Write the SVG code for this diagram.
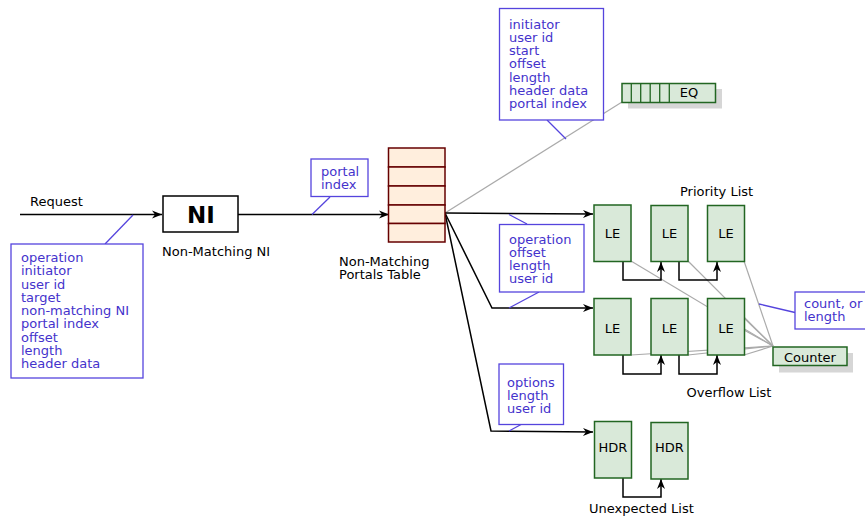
<svg xmlns="http://www.w3.org/2000/svg" width="865" height="516" viewBox="0 0 865 516">
<defs>
<marker id="arr" markerWidth="12" markerHeight="10" viewBox="-11 -5 12 10" refX="0" refY="0" orient="auto" markerUnits="userSpaceOnUse">
<path d="M0,0 L-10,-4 L-7,0 L-10,4 z" fill="#000"/>
</marker>
<style>
text{font-family:"DejaVu Sans",sans-serif;font-size:13px;fill:#000}
.c{fill:#4433cc}
.cb{fill:#fff;stroke:#5544dd;stroke-width:1.3}
.cp{stroke:#5544dd;stroke-width:1.3;fill:none}
.ln{stroke:#000;stroke-width:1.5;fill:none}
.ar{marker-end:url(#arr)}
.gr{stroke:#aaaaaa;stroke-width:1.2;fill:none}
.g{fill:#d9e9d9;stroke:#226622;stroke-width:1.5}
.sh{fill:#d6d6d6}
.t{fill:#ffeedd;stroke:#660000;stroke-width:1.5}
.m{text-anchor:middle}
</style>
</defs>
<g id="connectors">
<line class="gr" x1="445" y1="213" x2="622" y2="102"/>
<line class="gr" x1="631" y1="261" x2="773" y2="346"/>
<line class="gr" x1="688" y1="261" x2="773" y2="346"/>
<line class="gr" x1="744" y1="261" x2="773" y2="346"/>
<line class="gr" x1="744" y1="318" x2="773" y2="346"/>
<line class="gr" x1="744" y1="330" x2="773" y2="346"/>
<line class="gr" x1="744" y1="355" x2="773" y2="346"/>
<line class="gr" x1="631" y1="355" x2="773" y2="346"/>
<line class="gr" x1="688" y1="355" x2="773" y2="346"/>
<path class="ln ar" d="M20,214.5 H162"/>
<path class="ln ar" d="M238,214.5 H389"/>
<path class="ln ar" d="M445,213 L593,214"/>
<path class="ln ar" d="M445,213 L492,308 H593"/>
<path class="ln ar" d="M445,213 L491,431 L593,432"/>
<path class="ln ar" d="M623,262 V280 H661 V262"/>
<path class="ln ar" d="M679,262 V280 H717 V262"/>
<path class="ln ar" d="M623,355 V374 H661 V355"/>
<path class="ln ar" d="M679,355 V374 H717 V355"/>
<path class="ln ar" d="M623,478 V497 H661 V479"/>
</g>
<g id="label-request"><text x="30" y="206">Request</text></g>
<g id="ni">
<rect x="163" y="196" width="75" height="36" fill="#fff" stroke="#000" stroke-width="1.5"/>
<text x="201" y="223" class="m" style="font-size:23px;font-weight:bold">NI</text>
<text x="162" y="256">Non-Matching NI</text>
</g>
<g id="callout-request">
<line class="cp" x1="105" y1="244" x2="133" y2="215"/>
<rect class="cb" x="11" y="244" width="132" height="134"/>
<text class="c" x="21" y="262">operation</text>
<text class="c" x="21" y="275.3">initiator</text>
<text class="c" x="21" y="288.5">user id</text>
<text class="c" x="21" y="301.8">target</text>
<text class="c" x="21" y="315">non-matching NI</text>
<text class="c" x="21" y="328.3">portal index</text>
<text class="c" x="21" y="341.5">offset</text>
<text class="c" x="21" y="354.8">length</text>
<text class="c" x="21" y="368">header data</text>
</g>
<g id="callout-portal">
<line class="cp" x1="330" y1="197" x2="312" y2="214.5"/>
<rect class="cb" x="311" y="159" width="57" height="37.5"/>
<text class="c" x="321" y="176">portal</text>
<text class="c" x="321" y="188.5">index</text>
</g>
<g id="table">
<rect class="t" x="388.5" y="148" width="56.5" height="19"/>
<rect class="t" x="388.5" y="167" width="56.5" height="19"/>
<rect class="t" x="388.5" y="186" width="56.5" height="19"/>
<rect class="t" x="388.5" y="205" width="56.5" height="18.5"/>
<rect class="t" x="388.5" y="223.5" width="56.5" height="18.5"/>
<text x="339" y="265.5">Non-Matching</text>
<text x="339" y="279">Portals Table</text>
</g>
<g id="callout-eq">
<line class="cp" x1="547" y1="120" x2="566" y2="139"/>
<rect class="cb" x="499.5" y="8.5" width="104" height="111.5"/>
<text class="c" x="509" y="28.5">initiator</text>
<text class="c" x="509" y="41.8">user id</text>
<text class="c" x="509" y="55">start</text>
<text class="c" x="509" y="68.3">offset</text>
<text class="c" x="509" y="81.5">length</text>
<text class="c" x="509" y="94.8">header data</text>
<text class="c" x="509" y="108">portal index</text>
</g>
<g id="eq">
<rect class="sh" x="628" y="89" width="94" height="19.5"/>
<rect class="g" x="622" y="83.5" width="93.5" height="19"/>
<path d="M631.3,83.5 V102.5 M640.7,83.5 V102.5 M650.2,83.5 V102.5 M659.7,83.5 V102.5 M669.3,83.5 V102.5" stroke="#226622" stroke-width="1.3"/>
<text x="689" y="97" class="m">EQ</text>
</g>
<g id="callout-le">
<line class="cp" x1="527" y1="224" x2="509" y2="214.5"/>
<line class="cp" x1="539" y1="292" x2="509" y2="308"/>
<rect class="cb" x="499.5" y="224.5" width="84.5" height="67.5"/>
<text class="c" x="509" y="244">operation</text>
<text class="c" x="509" y="257">offset</text>
<text class="c" x="509" y="270">length</text>
<text class="c" x="509" y="283">user id</text>
</g>
<g id="callout-hdr">
<line class="cp" x1="522" y1="424" x2="509" y2="431"/>
<rect class="cb" x="499" y="364" width="64.5" height="60.5"/>
<text class="c" x="507" y="387">options</text>
<text class="c" x="507" y="400">length</text>
<text class="c" x="507" y="413">user id</text>
</g>
<g id="priority-list">
<text x="680" y="195.5">Priority List</text>
<rect class="g" x="594" y="205" width="37" height="56.5"/>
<text x="612.5" y="238" class="m">LE</text>
<rect class="g" x="651" y="205.5" width="37" height="56"/>
<text x="669.5" y="238" class="m">LE</text>
<rect class="g" x="707.5" y="205.5" width="37" height="56"/>
<text x="726" y="238" class="m">LE</text>
</g>
<g id="overflow-list">
<rect class="g" x="594" y="298.5" width="37" height="56.5"/>
<text x="612.5" y="333" class="m">LE</text>
<rect class="g" x="651" y="298.5" width="37" height="56.5"/>
<text x="669.5" y="333" class="m">LE</text>
<rect class="g" x="707.5" y="298.5" width="37" height="56.5"/>
<text x="726" y="333" class="m">LE</text>
<text x="686.5" y="397">Overflow List</text>
</g>
<g id="unexpected-list">
<rect class="g" x="594.5" y="421.5" width="37" height="56.5"/>
<text x="613" y="451.5" class="m">HDR</text>
<rect class="g" x="651" y="422.5" width="37" height="56.5"/>
<text x="669.5" y="452" class="m">HDR</text>
<text x="589" y="513">Unexpected List</text>
</g>
<g id="counter">
<rect class="sh" x="779" y="353" width="74" height="19.5"/>
<rect class="g" x="773" y="347" width="74" height="18.5"/>
<text x="810" y="361.5" class="m">Counter</text>
</g>
<g id="callout-counter">
<line class="cp" x1="759" y1="304" x2="795" y2="312.5"/>
<rect class="cb" x="795" y="292" width="80" height="37"/>
<text class="c" x="804" y="308">count, or</text>
<text class="c" x="804" y="320.5">length</text>
</g>
</svg>
